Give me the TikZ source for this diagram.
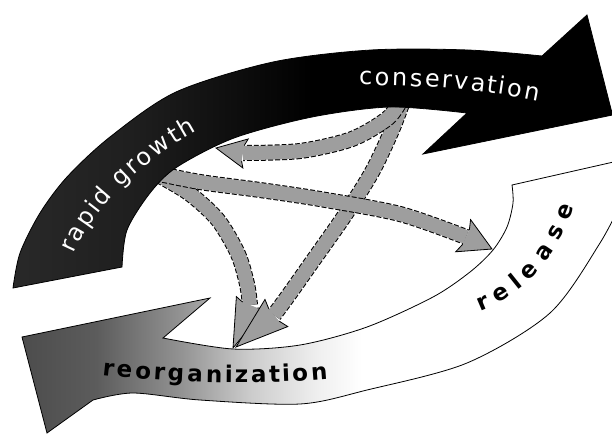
\documentclass[tikz,border=0pt]{standalone}
\usepackage{fontspec}
\newfontfamily\cyclefont{DejaVu Sans}
\usetikzlibrary{calc,decorations.text}
\pgfdeclarehorizontalshading{growthfade}{100bp}{color(0bp)=(black!84); color(25bp)=(black!84); color(35bp)=(black!88); color(44bp)=(black!95); color(50bp)=(black); color(100bp)=(black)}
\pgfdeclarehorizontalshading{reorgfade}{100bp}{color(0bp)=(black!70); color(25bp)=(black!70); color(31bp)=(black!64); color(38bp)=(black!42); color(43.5bp)=(black!20); color(49bp)=(black!6); color(52.5bp)=(white); color(100bp)=(white)}

\begin{document}
\begin{tikzpicture}[x=1pt,y=-1pt,
  bandedge/.style={draw=black,line width=0.8pt,line join=miter},
  flowband/.style={draw=black,line width=16pt,dash pattern=on 5pt off 2pt,
    postaction={draw=black!38,line width=14pt,solid}},
  flowhead/.style={fill=black!38,draw=black,line width=0.8pt,line join=miter},
  phaselabel/.style 2 args={decorate,decoration={text effects along path,text={#1},
    text effects/.cd,characters={#2},text along path,fit text to path}}]
\useasboundingbox (0,0) rectangle (612,437);
\clip (0,0) rectangle (612,437);

% release -> reorganization
\shadedraw[shading=reorgfade,bandedge] (640,156) -- (512,185)
  -- plot[smooth] coordinates {(512,185)(513,203)(507,227)(493,250)(470,272)(433,297)(367,327)(300,345)(233,349)(163,338)}
  -- (210,298) -- (22,337) -- (47,433) -- (93,400)
  -- plot[smooth] coordinates {(93,400)(133,393)(200,400)(300,404)(367,390)(467,363)(550,313)(600,243)(625,195)}
  -- cycle;

% inner flows
\coordinate (ea) at (243,153); \coordinate (ta) at (216,148);
\coordinate (eb) at (466,237); \coordinate (tb) at (492,249);
\coordinate (ec) at (250,305); \coordinate (tc) at (233,348);
\coordinate (ed) at (274,315); \coordinate (td) at (236,347);

\draw[flowband] plot[smooth] coordinates {(160,176)(190,194)(218,220)(238,254)(247,284)(250,305)};
\filldraw[flowhead] ($(ec)!8pt!90:(tc)$) -- ($(ec)!16pt!100:(tc)$) -- (tc) -- ($(ec)!16pt!-100:(tc)$) -- ($(ec)!8pt!-90:(tc)$);

\draw[flowband] plot[smooth] coordinates {(404,98)(392,130)(372,172)(345,215)(312,262)(288,296)(274,315)};
\filldraw[flowhead] ($(ed)!8pt!90:(td)$) -- ($(ed)!18pt!100:(td)$) -- (td) -- ($(ed)!18pt!-100:(td)$) -- ($(ed)!8pt!-90:(td)$);

\draw[flowband] plot[smooth] coordinates {(150,172)(200,182)(260,190)(320,199)(400,214)(466,237)};
\filldraw[flowhead] ($(eb)!8pt!90:(tb)$) -- ($(eb)!18pt!100:(tb)$) -- (tb) -- ($(eb)!18pt!-100:(tb)$) -- ($(eb)!8pt!-90:(tb)$);

\draw[flowband] plot[smooth] coordinates {(402,98)(388,118)(352,139)(300,151)(243,153)};
\filldraw[flowhead] ($(ea)!8pt!90:(ta)$) -- ($(ea)!15pt!100:(ta)$) -- (ta) -- ($(ea)!15pt!-100:(ta)$) -- ($(ea)!8pt!-90:(ta)$);

% rapid growth -> conservation
\shadedraw[shading=growthfade,bandedge] (13,288)
  -- plot[smooth] coordinates {(13,288)(20,253)(40,213)(67,177)(110,137)(176,92)(273,62)(371,50)(468,50)(542,56)}
  -- (587,15) -- (612.5,115) -- (423,154) -- (467,113)
  -- plot[smooth] coordinates {(467,113)(390,107)(312,117)(234,138)(177,167)(150,193)(127,230)(122,267)}
  -- cycle;

% phase names
\path[phaselabel={rapid growth}{font=\cyclefont\fontsize{24}{24}\selectfont,text=white}]
  (74,254) .. controls (92,212) and (135,165) .. (197,131);
\path[phaselabel={conservation}{font=\cyclefont\fontsize{24}{24}\selectfont,text=white}]
  (359,85) .. controls (420,85) and (480,89) .. (538,101);
\path[phaselabel={release}{font=\cyclefont\bfseries\fontsize{23}{23}\selectfont,text=black}]
  (480,311) .. controls (516,297) and (551,271) .. (574,207);
\path[phaselabel={reorganization}{font=\cyclefont\bfseries\fontsize{23}{23}\selectfont,text=black}]
  (102,375) .. controls (170,383) and (260,385) .. (328,379);
\end{tikzpicture}
\end{document}
